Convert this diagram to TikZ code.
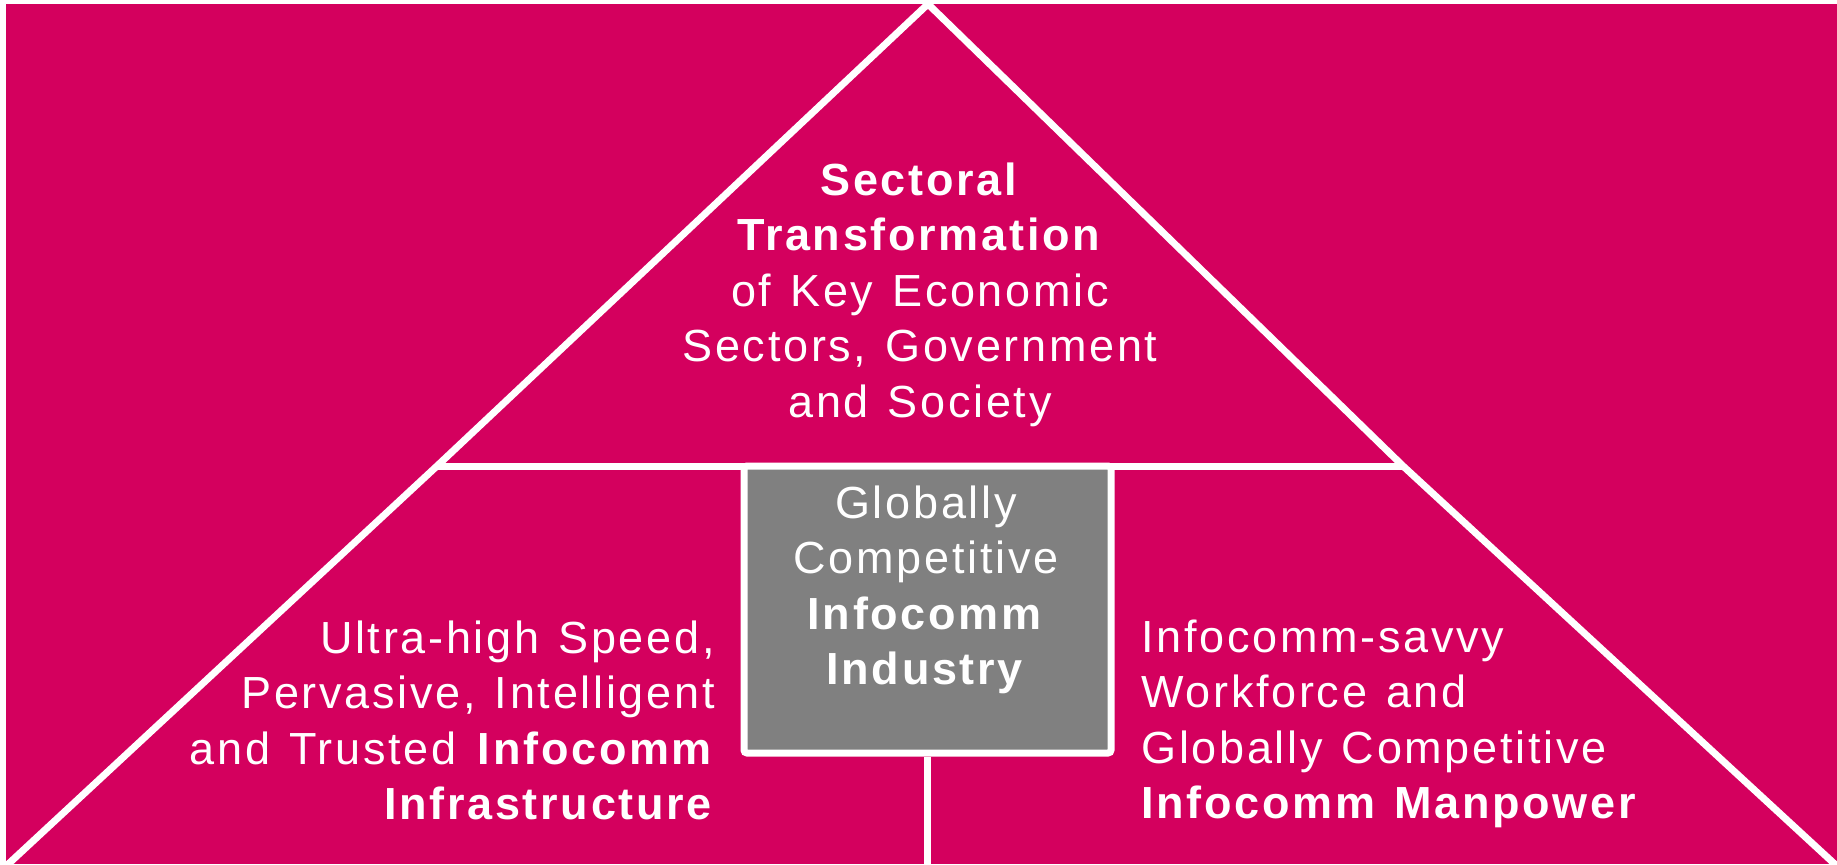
\documentclass[tikz,border=0pt]{standalone}
\usepackage{fontspec}
\setmainfont{Liberation Sans}[LetterSpace=6]
\definecolor{mag}{RGB}{212,0,94}
\definecolor{boxgrey}{RGB}{128,128,128}
\newcommand{\wordsp}{\spaceskip=9.5pt\relax}
\begin{document}
\begin{tikzpicture}[x=0.5pt,y=-0.5pt,
  wline/.style={white,line width=3.5pt},
  lbl/.style={text=white,inner sep=0pt,font=\fontsize{22.5}{27.75}\selectfont}]
\useasboundingbox (0,0) rectangle (1837,864);
\fill[white] (0,0) rectangle (1837,864);
\fill[mag] (6,4) rectangle (1837,864);
\begin{scope}
\clip (6,4) rectangle (1837,864);
\coordinate (apex) at (928,4);
\coordinate (tl) at (437,466);
\coordinate (tr) at (1403,466);
\coordinate (bl) at (4,868);
\coordinate (br) at (1839,868);
\coordinate (bot) at (927.5,870);
\draw[wline, line join=round] (bl) -- (tl) -- (apex) -- (tr) -- (br);
\draw[wline] (tl) -- (tr);
\node[draw=white, line width=3.5pt, fill=boxgrey, rounded corners=1.5pt,
  minimum width=183.5pt, minimum height=143.5pt, inner sep=0pt] (box) at (927.5,609.5) {};
\draw[wline] (box.south) -- (bot);
\end{scope}
\node[lbl, anchor=base] (top) at (920,195) {\parbox[t]{320pt}{\wordsp\centering
  \textbf{Sectoral}\\ \textbf{Transformation}\\ of Key Economic\\ Sectors, Government\\ and Society}};
\node[lbl, anchor=base] (mid) at (926,518) {\parbox[t]{200pt}{\wordsp\centering
  Globally\\ Competitive\\ \textbf{Infocomm}\\ \textbf{Industry}}};
\node[lbl, anchor=base east] (left) at (715,653) {\parbox[t]{320pt}{\wordsp\raggedleft
  Ultra-high Speed,\\ Pervasive, Intelligent\\ and Trusted \textbf{Infocomm}\\ \textbf{Infrastructure}}};
\node[lbl, anchor=base west] (right) at (1141,652) {\parbox[t]{320pt}{\wordsp\raggedright
  Infocomm-savvy\\ Workforce and\\ Globally Competitive\\ \textbf{Infocomm Manpower}}};
\end{tikzpicture}
\end{document}
